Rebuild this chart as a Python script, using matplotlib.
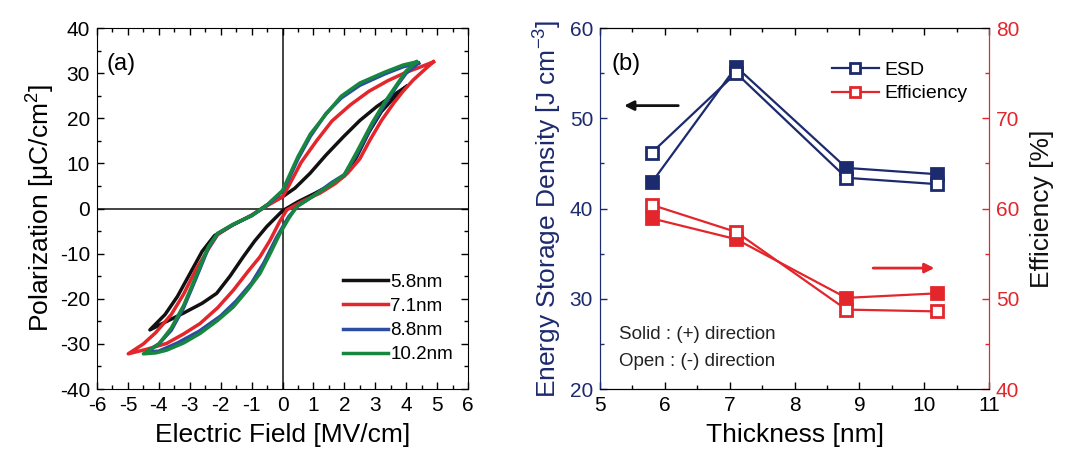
import matplotlib
matplotlib.use("Agg")
import matplotlib.pyplot as plt
from matplotlib.ticker import MultipleLocator
from matplotlib.lines import Line2D

plt.rcParams['font.family'] = ['Liberation Sans', 'DejaVu Sans']
plt.rcParams['mathtext.fontset'] = 'custom'
plt.rcParams['mathtext.rm'] = 'Liberation Sans'
plt.rcParams['mathtext.it'] = 'Liberation Sans'
plt.rcParams['axes.unicode_minus'] = False

# ---- (a) P-E hysteresis loops: field [MV/cm], polarization [uC/cm^2] ----
loop_labels = ['5.8nm', '7.1nm', '8.8nm', '10.2nm']
loop_colors = ['#111111', '#e2262b', '#2b4ea3', '#17873f']

e_58 = [4.0, 3.6, 3.05, 2.5, 1.97, 1.4, 0.89, 0.4, 0.0, -0.5, -1.0, -1.6, -2.2, -2.6, -3.0, -3.4, -3.8, -4.29,
        -3.8, -3.21, -2.6, -2.13, -1.7, -1.27, -0.9, -0.51, 0.0, 0.5, 1.0, 1.5, 2.0, 2.4, 2.8, 3.2, 3.6, 4.0]
p_58 = [27.0, 25.2, 22.6, 19.5, 15.9, 11.8, 7.8, 4.5, 2.6, 0.8, -1.5, -3.6, -6.0, -9.5, -14.5, -19.5, -23.5, -26.9,
        -25.2, -23.2, -21.0, -18.8, -15.0, -10.7, -7.2, -4.0, -0.5, 1.5, 3.2, 5.0, 7.2, 11.5, 17.0, 21.5, 24.5, 27.0]

e_71 = [4.88, 4.4, 4.0, 3.4, 2.8, 2.2, 1.6, 1.1, 0.6, 0.2, 0.0, -0.5, -1.0, -1.6, -2.1, -2.4, -2.8, -3.2, -3.6,
        -4.1, -4.5, -4.99,
        -4.4, -3.75, -3.2, -2.67, -2.1, -1.59, -1.1, -0.73, -0.4, -0.1, 0.14, 0.7, 1.21, 1.7, 2.1, 2.5, 2.83,
        3.2, 3.59, 3.9, 4.23, 4.6, 4.88]
p_71 = [32.5, 31.2, 30.2, 28.3, 26.0, 23.0, 19.4, 15.0, 10.2, 5.0, 2.6, 0.6, -1.5, -3.6, -5.8, -9.0, -13.5, -19.0, -23.5,
        -27.5, -30.0, -32.2,
        -31.2, -29.9, -27.8, -25.5, -22.0, -18.1, -13.8, -10.7, -7.0, -3.0, -0.3, 1.8, 3.4, 5.5, 7.8, 11.0, 15.2,
        19.5, 23.3, 26.0, 28.5, 30.8, 32.5]

e_88 = [4.4, 3.9, 3.3, 2.5, 1.9, 1.4, 0.9, 0.5, 0.2, 0.0, -0.5, -1.0, -1.6, -2.1, -2.4, -2.8, -3.2, -3.6, -4.0, -4.4,
        -4.0, -3.4, -2.7, -2.0, -1.5, -1.0, -0.6, -0.2, 0.2, 0.5, 1.0, 1.6, 2.0, 2.4, 2.9, 3.3, 3.7, 4.0, 4.4]
p_88 = [32.2, 31.4, 29.8, 27.3, 24.5, 21.0, 16.0, 11.0, 6.5, 3.8, 0.7, -1.6, -3.6, -5.6, -8.8, -15.5, -22.0, -27.0, -30.0, -31.8,
        -31.6, -29.8, -27.2, -23.8, -20.5, -16.5, -12.0, -6.5, -1.8, 0.6, 2.8, 5.8, 7.5, 12.0, 18.5, 23.0, 27.2, 30.0, 32.2]

e_102 = [4.34, 3.9, 3.3, 2.5, 1.9, 1.43, 0.9, 0.5, 0.1, 0.0, -0.5, -1.0, -1.6, -2.1, -2.4, -2.8, -3.2, -3.6, -4.0, -4.5,
         -4.1, -3.75, -3.2, -2.67, -2.1, -1.59, -1.1, -0.73, -0.4, -0.08, 0.2, 0.46, 1.0, 1.5, 2.0, 2.4, 2.9, 3.3,
         3.7, 4.0, 4.34]
p_102 = [32.5, 31.8, 30.2, 27.8, 24.9, 21.1, 16.5, 11.5, 5.5, 4.0, 0.8, -1.6, -3.5, -5.5, -8.5, -15.0, -21.5, -26.5, -30.0, -32.2,
         -32.0, -31.4, -29.8, -27.7, -24.8, -21.8, -17.8, -14.4, -10.0, -5.5, -2.2, 0.4, 2.8, 5.0, 7.5, 12.5, 19.0, 23.5,
         27.5, 30.5, 32.5]

# ---- (b) energy storage density and efficiency vs film thickness ----
thickness = [5.8, 7.1, 8.8, 10.2]
esd_pos = [42.9, 55.7, 44.5, 43.8]
esd_neg = [46.2, 55.0, 43.4, 42.7]
eff_pos = [58.9, 56.6, 50.1, 50.6]
eff_neg = [60.4, 57.4, 48.8, 48.6]

NAVY = '#1c2a6e'
RED = '#e2262b'

fig = plt.figure(figsize=(10.72, 4.66), dpi=100)

# ================= panel (a) =================
ax = fig.add_axes([0.0905, 0.1652, 0.3461, 0.7747])
ax.axhline(0, color='#222222', lw=1.2, zorder=1)
ax.axvline(0, color='#222222', lw=1.2, zorder=1)
series = [(e_58, p_58), (e_71, p_71), (e_88, p_88), (e_102, p_102)]
draw_order = [0, 2, 1, 3]
for i in draw_order:
    e, p = series[i]
    ax.plot(e, p, color=loop_colors[i], lw=2.5, solid_joinstyle='round', zorder=2 + i)

ax.set_xlim(-6, 6)
ax.set_ylim(-40, 40)
ax.xaxis.set_major_locator(MultipleLocator(1))
ax.xaxis.set_minor_locator(MultipleLocator(0.5))
ax.yaxis.set_major_locator(MultipleLocator(10))
ax.yaxis.set_minor_locator(MultipleLocator(5))
ax.tick_params(which='both', direction='in', top=True, right=True, labelsize=15, pad=5)
ax.tick_params(which='major', length=5, width=1)
ax.tick_params(which='minor', length=3, width=1)
ax.set_xlabel('Electric Field [MV/cm]', fontsize=19, labelpad=6)
ax.set_ylabel('Polarization [μC/cm$^2$]', fontsize=19, labelpad=2)
ax.text(0.025, 0.90, '(a)', transform=ax.transAxes, fontsize=17, va='center')

handles = [Line2D([], [], color=c, lw=2.5) for c in loop_colors]
ax.legend(handles, loop_labels, loc='lower right', frameon=False, fontsize=13.5,
          handlelength=2.4, handletextpad=0.1, labelspacing=0.38, borderaxespad=0.1,
          bbox_to_anchor=(0.985, 0.045))

# ================= panel (b) =================
bx = fig.add_axes([0.5597, 0.1652, 0.3629, 0.7747])
bx2 = bx.twinx()

ms = 8.5
bx.plot(thickness, esd_pos, color=NAVY, lw=1.6, marker='s', ms=ms, mfc=NAVY, mec=NAVY, mew=2, zorder=3)
bx.plot(thickness, esd_neg, color=NAVY, lw=1.6, marker='s', ms=ms, mfc='white', mec=NAVY, mew=2, zorder=3)
bx2.plot(thickness, eff_pos, color=RED, lw=1.6, marker='s', ms=ms, mfc=RED, mec=RED, mew=2, zorder=3)
bx2.plot(thickness, eff_neg, color=RED, lw=1.6, marker='s', ms=ms, mfc='white', mec=RED, mew=2, zorder=3)

bx.set_xlim(5, 11)
bx.set_ylim(20, 60)
bx2.set_ylim(40, 80)
bx.xaxis.set_major_locator(MultipleLocator(1))
bx.xaxis.set_minor_locator(MultipleLocator(0.5))
bx.yaxis.set_major_locator(MultipleLocator(10))
bx.yaxis.set_minor_locator(MultipleLocator(5))
bx2.yaxis.set_major_locator(MultipleLocator(10))
bx2.yaxis.set_minor_locator(MultipleLocator(5))

bx.tick_params(axis='x', which='both', direction='in', top=True, labelsize=15, pad=5)
bx.tick_params(axis='y', which='both', direction='in', colors=NAVY, labelsize=15, pad=5)
bx2.tick_params(axis='y', which='both', direction='in', colors=RED, labelsize=15, pad=5)
for a in (bx, bx2):
    a.tick_params(which='major', length=5, width=1)
    a.tick_params(which='minor', length=3, width=1)

bx.spines['left'].set_color(NAVY)
bx2.spines['left'].set_color(NAVY)
bx2.spines['right'].set_color(RED)
bx.spines['right'].set_color(RED)

bx.set_xlabel('Thickness [nm]', fontsize=19, labelpad=6)
bx.set_ylabel('Energy Storage Density [J cm$^{-3}$]', fontsize=19, color=NAVY, labelpad=4)
bx2.set_ylabel('Efficiency [%]', fontsize=19, color='#111111', labelpad=8)

bx.text(0.03, 0.90, '(b)', transform=bx.transAxes, fontsize=17, va='center')

bx.annotate('', xy=(5.33, 51.4), xytext=(6.25, 51.4),
            arrowprops=dict(arrowstyle='-|>', color='#111111', lw=2, mutation_scale=14))
bx2.annotate('', xy=(10.2, 53.4), xytext=(9.17, 53.4),
             arrowprops=dict(arrowstyle='-|>', color=RED, lw=2, mutation_scale=14))

bx.text(5.3, 26.0, 'Solid : (+) direction', fontsize=13.5, color='#222222', va='center')
bx.text(5.3, 23.1, 'Open : (-) direction', fontsize=13.5, color='#222222', va='center')

leg_handles = [
    Line2D([], [], color=NAVY, lw=1.6, marker='s', ms=7.5, mfc='white', mec=NAVY, mew=2),
    Line2D([], [], color=RED, lw=1.6, marker='s', ms=7.5, mfc='white', mec=RED, mew=2),
]
bx.legend(leg_handles, ['ESD', 'Efficiency'], loc='upper right', frameon=False, fontsize=14,
          handlelength=2.4, handletextpad=0.3, labelspacing=0.3, bbox_to_anchor=(0.975, 0.94),
          borderaxespad=0.2)

fig.savefig('out.png', dpi=100)
